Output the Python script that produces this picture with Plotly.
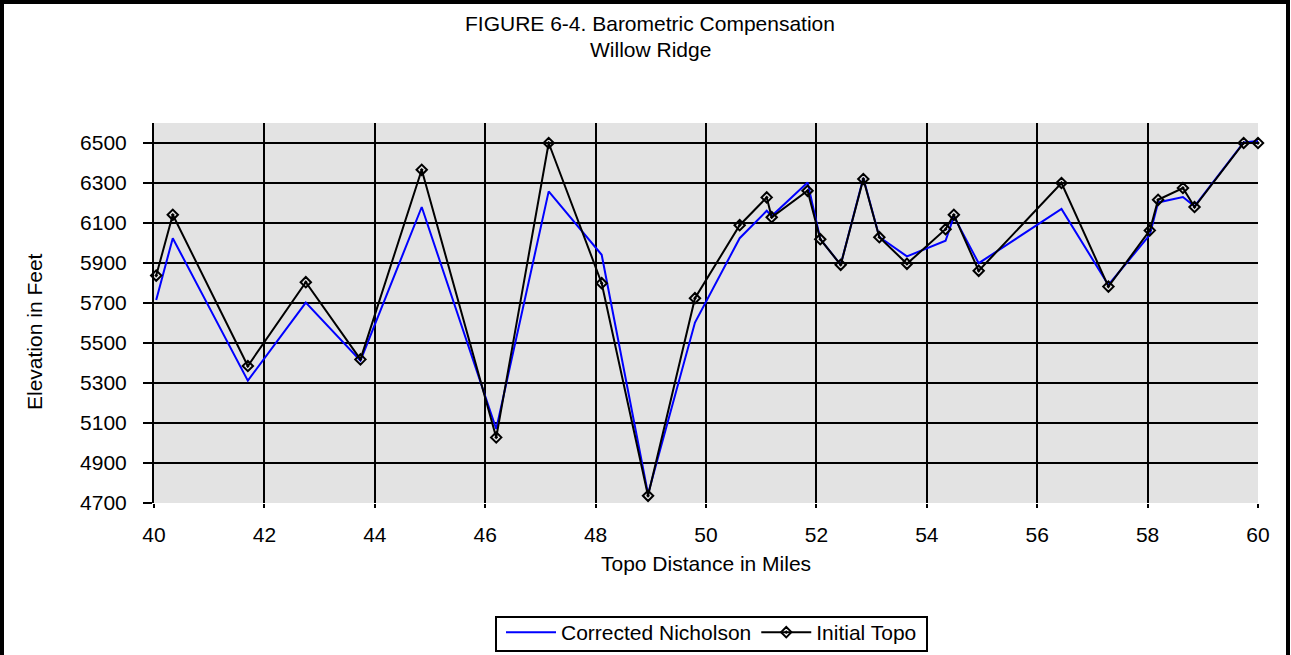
import plotly.graph_objects as go

# ---- data ----
topo_distance = [40.04, 40.34, 41.70, 42.75, 43.74, 44.85, 46.20, 47.15, 48.11, 48.95,
                 49.80, 50.61, 51.10, 51.19, 51.84, 52.07, 52.44, 52.85, 53.14, 53.64,
                 54.34, 54.49, 54.94, 56.44, 57.29, 58.04, 58.19, 58.64, 58.85, 59.74, 60.0]
corrected_nicholson = [5715, 6024, 5312, 5702, 5412, 6180, 5070, 6258, 5941, 4745,
                       5602, 6024, 6161, 6135, 6303, 6020, 5891, 6325, 6030, 5933,
                       6011, 6133, 5899, 6170, 5790, 6041, 6203, 6230, 6183, 6503, 6510]
initial_topo = [5837, 6141, 5385, 5804, 5418, 6366, 5028, 6500, 5799, 4736,
                5724, 6089, 6228, 6129, 6261, 6019, 5891, 6320, 6029, 5896,
                6069, 6141, 5861, 6300, 5782, 6063, 6216, 6275, 6180, 6500, 6500]
series_names = ["Corrected Nicholson", "Initial Topo"]
title_lines = ["FIGURE 6-4. Barometric Compensation", "Willow Ridge"]
x_title = "Topo Distance in Miles"
y_title = "Elevation in Feet"

# ---- layout geometry ----
W, H = 1291, 655
L, R, T, B = 154, 33, 123, 152
PW, PH = W - L - R, H - T - B
FONT = "Liberation Sans, Arial, sans-serif"
FS = 21


def px(xp):
    return (xp - L) / PW


def py(yp):
    return (H - B - yp) / PH


fig = go.Figure()
fig.add_trace(go.Scatter(x=topo_distance, y=corrected_nicholson, name=series_names[0],
                         mode="lines", line=dict(color="#0000ff", width=2), cliponaxis=False))
fig.add_trace(go.Scatter(x=topo_distance, y=initial_topo, name=series_names[1],
                         mode="lines+markers", line=dict(color="#000000", width=2),
                         marker=dict(symbol="diamond-open-dot", size=8, color="#000000",
                                     line=dict(width=2, color="#000000")),
                         cliponaxis=False))

ann = [
    dict(text=title_lines[0], x=px(650), y=py(24), xref="paper", yref="paper",
         showarrow=False, xanchor="center", yanchor="middle",
         font=dict(family=FONT, size=FS, color="black")),
    dict(text=title_lines[1], x=px(650), y=py(50), xref="paper", yref="paper",
         showarrow=False, xanchor="center", yanchor="middle",
         font=dict(family=FONT, size=FS, color="black")),
    dict(text=x_title, x=px(706), y=py(563), xref="paper", yref="paper",
         showarrow=False, xanchor="center", yanchor="middle",
         font=dict(family=FONT, size=FS, color="black")),
    dict(text=y_title, x=px(34), y=py(332), xref="paper", yref="paper",
         showarrow=False, xanchor="center", yanchor="middle", textangle=-90,
         font=dict(family=FONT, size=FS, color="black")),
]

shapes = [
    # outer chart frame
    dict(type="rect", xref="paper", yref="paper",
         x0=px(2), x1=px(1288), y0=py(2), y1=py(662),
         line=dict(color="black", width=4), fillcolor="rgba(0,0,0,0)", layer="above"),
    # legend frame
    dict(type="rect", xref="paper", yref="paper",
         x0=px(496), x1=px(927), y0=py(617), y1=py(651),
         line=dict(color="black", width=2), fillcolor="white", layer="below"),
]

fig.update_layout(
    width=W, height=H,
    margin=dict(l=L, r=R, t=T, b=B, autoexpand=False),
    paper_bgcolor="white", plot_bgcolor="#e3e3e3",
    font=dict(family=FONT, size=FS, color="black"),
    showlegend=True,
    legend=dict(orientation="h", x=px(711.5), xanchor="center", y=py(612), yanchor="top",
                borderwidth=0, bgcolor="rgba(0,0,0,0)",
                font=dict(family=FONT, size=FS, color="black"), itemwidth=50),
    annotations=ann,
    shapes=shapes,
    xaxis=dict(range=[40, 60], tick0=40, dtick=2, showgrid=True, gridcolor="black", gridwidth=2,
               ticks="outside", ticklen=4, tickwidth=2, tickcolor="black",
               showline=False, zeroline=False, tickfont=dict(family=FONT, size=FS),
               automargin=False, ticklabelstandoff=9),
    yaxis=dict(range=[4700, 6600], tick0=4700, dtick=200, showgrid=True, gridcolor="black",
               gridwidth=2, ticks="outside", ticklen=9, tickwidth=2, tickcolor="black",
               showline=True, linecolor="black", linewidth=2, zeroline=False,
               tickfont=dict(family=FONT, size=FS), automargin=False, ticklabelstandoff=12),
)

fig.write_html("out.html", config={"displayModeBar": False},
               post_script="document.body.style.margin='0';")
